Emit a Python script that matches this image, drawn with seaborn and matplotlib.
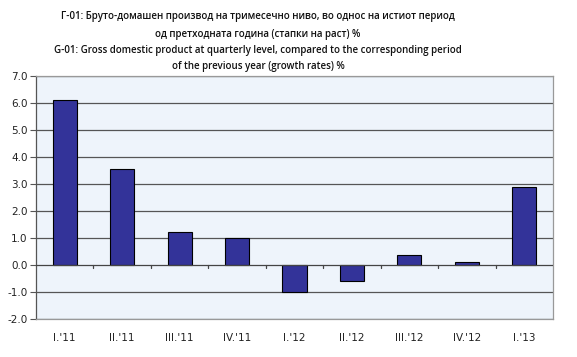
import matplotlib
matplotlib.use("Agg")
import matplotlib.pyplot as plt
import seaborn as sns
import pandas as pd
import numpy as np

categories = ["I.'11", "II.'11", "III.'11", "IV.'11", "I.'12", "II.'12", "III.'12", "IV.'12", "I.'13"]
values = [6.1, 3.55, 1.2, 1.0, -1.0, -0.6, 0.38, 0.12, 2.9]
yticks = [-2.0, -1.0, 0.0, 1.0, 2.0, 3.0, 4.0, 5.0, 6.0, 7.0]
title_lines = [
    "Г-01: Бруто-домашен производ на тримесечно ниво, во однос на истиот период",
    "од претходната година (стапки на раст) %",
    "G-01: Gross domestic product at quarterly level, compared to the corresponding period",
    "of the previous year (growth rates) %",
]

sns.set_theme(style="white")
plt.rcParams['font.family'] = ['DejaVu Sans']

df = pd.DataFrame({"cat": categories, "val": values})

fig = plt.figure(figsize=(5.77, 3.57), dpi=100)
ax = fig.add_axes([36/577, 1-319/357, (553-36)/577, (319-75.7)/357])
ax.set_facecolor("#EEF4FB")

sns.barplot(data=df, x="cat", y="val", ax=ax, color="#333399", width=0.42,
            edgecolor="black", linewidth=0.8, saturation=1, zorder=3)

ax.set_ylim(-2.0, 7.0)
ax.set_xlim(-0.5, len(categories) - 0.5)
ax.set_yticks(yticks)
ax.set_yticklabels([f"{v:.1f}" for v in yticks], fontsize=7.5, color="#222222")
for y in yticks:
    if y != 0:
        ax.axhline(y, color="#555555", lw=0.9, zorder=1)
ax.axhline(0, color="#444444", lw=0.9, zorder=4)
# category boundary ticks on zero line
for b in np.arange(0.5, len(categories) - 0.5, 1):
    ax.plot([b, b], [0, -0.1], color="#444444", lw=0.9, zorder=4, clip_on=False)

ax.set_xticks(range(len(categories)))
ax.set_xticklabels(categories, fontsize=7.5, color="#222222")
ax.tick_params(axis="x", length=0, pad=10)
ax.tick_params(axis="y", length=4, width=0.8, color="#555555", direction="out", left=True, pad=2)
ax.set_xlabel("")
ax.set_ylabel("")
for s in ["top", "right", "bottom"]:
    ax.spines[s].set_color("#999999")
    ax.spines[s].set_linewidth(0.9)
ax.spines["left"].set_color("#555555")
ax.spines["left"].set_linewidth(0.9)

ys = [17, 34, 51, 67]
for t, y in zip(title_lines, ys):
    fig.text(258/577, 1 - y/357, t, ha="center", va="center", fontsize=7.0,
             family=["Open Sans", "DejaVu Sans"], color="#111111", fontweight="semibold")

fig.savefig("out.png", dpi=100)
